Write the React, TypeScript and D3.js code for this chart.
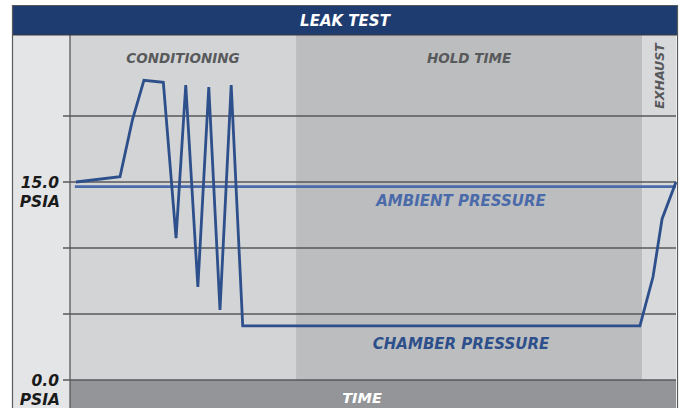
import * as d3 from 'd3';
import React, { useEffect, useRef } from 'react';

// time is in percent of the full cycle, pressure in psia
const phaseNames = ['CONDITIONING', 'HOLD TIME', 'EXHAUST'];
const phaseStarts = [0, 37.3, 94.4];
const phaseEnds = [37.3, 94.4, 100];
const phaseColors = ['#d3d4d6', '#bcbdbf', '#d8d9db'];

const chamberTime = [1, 8.25, 10.3, 12.2, 15.4, 17.5, 19.1, 21.1, 22.9, 24.75, 26.6, 28.5, 94.05, 96.2, 97.7, 100];
const chamberPsia = [15.0, 15.4, 19.7, 22.7, 22.55, 10.75, 22.35, 7.05, 22.2, 5.3, 22.35, 4.1, 4.1, 7.8, 12.2, 15.0];

const ambientTime = [0.8, 100];
const ambientPsia = [14.65, 14.65];

const gridValues = [0, 5, 10, 15, 20];
const tickLabels = [
	{ value: 15, text: '15.0' },
	{ value: 0, text: '0.0' },
];

export default function App(): React.JSX.Element {
	const chartRef = useRef<SVGSVGElement | null>(null);

	useEffect(() => {
		if (chartRef.current === null) return;
		d3.select(chartRef.current).selectAll('*').remove();

		const width = 680;
		const height = 408;
		const frame = { left: 12.5, right: 677.5, top: 5.5 };
		const headerBottom = 35;
		const plot = { left: 70, right: 676, top: headerBottom, bottom: 380 };
		const font = '"DejaVu Sans", Verdana, sans-serif';

		const svg = d3.select(chartRef.current)
			.attr('width', width)
			.attr('height', height)
			.style('position', 'absolute')
			.style('left', '0px')
			.style('top', '0px')
			.style('background', '#ffffff');

		const xScale = d3.scaleLinear().domain([0, 100]).range([plot.left, plot.right]);
		const yScale = d3.scaleLinear().domain([0, 15]).range([plot.bottom, 182]);

		const boldText = (sel: d3.Selection<SVGTextElement, any, any, any>, size: number, fill: string) =>
			sel.attr('font-family', font)
				.attr('font-weight', 'bold')
				.attr('font-style', 'italic')
				.attr('font-size', size)
				.attr('fill', fill);

		// left strip
		svg.append('rect')
			.attr('x', frame.left).attr('y', headerBottom)
			.attr('width', plot.left - frame.left).attr('height', height - headerBottom)
			.attr('fill', '#e4e5e7');

		// phase bands
		svg.selectAll('rect.phase')
			.data(phaseNames)
			.enter()
			.append('rect')
			.attr('class', 'phase')
			.attr('x', (_, i) => xScale(phaseStarts[i]))
			.attr('y', plot.top)
			.attr('width', (_, i) => xScale(phaseEnds[i]) - xScale(phaseStarts[i]))
			.attr('height', plot.bottom - plot.top)
			.attr('fill', (_, i) => phaseColors[i]);

		// time bar
		svg.append('rect')
			.attr('x', plot.left).attr('y', plot.bottom)
			.attr('width', plot.right - plot.left).attr('height', height - plot.bottom)
			.attr('fill', '#939598');

		svg.append('text')
			.attr('x', 362)
			.attr('y', 403)
			.attr('text-anchor', 'middle')
			.call(boldText, 14.5, '#ffffff')
			.text('TIME');

		// gridlines
		svg.selectAll('line.grid')
			.data(gridValues)
			.enter()
			.append('line')
			.attr('class', 'grid')
			.attr('x1', plot.left - 7)
			.attr('x2', plot.right)
			.attr('y1', (d) => yScale(d))
			.attr('y2', (d) => yScale(d))
			.attr('stroke', '#58595b')
			.attr('stroke-width', 1.3);

		// plot left edge
		svg.append('line')
			.attr('x1', plot.left).attr('x2', plot.left)
			.attr('y1', plot.top).attr('y2', height)
			.attr('stroke', '#58595b')
			.attr('stroke-width', 1.3);

		// phase titles
		svg.selectAll('text.phase-title')
			.data(phaseNames.slice(0, 2))
			.enter()
			.append('text')
			.attr('class', 'phase-title')
			.attr('x', (_, i) => (xScale(phaseStarts[i]) + xScale(phaseEnds[i])) / 2)
			.attr('y', 63)
			.attr('text-anchor', 'middle')
			.call(boldText, 13.5, '#58595b')
			.text((d) => d);

		svg.append('text')
			.attr('transform', `translate(${(xScale(phaseStarts[2]) + xScale(phaseEnds[2])) / 2 + 5}, 76) rotate(-90)`)
			.attr('text-anchor', 'middle')
			.call(boldText, 12.5, '#58595b')
			.text(phaseNames[2]);

		// y labels
		tickLabels.forEach((tick) => {
			const y = yScale(tick.value);
			svg.append('text')
				.attr('x', 59).attr('y', y + 6)
				.attr('text-anchor', 'end')
				.call(boldText, 15.5, '#1a1a1a')
				.text(tick.text);
			svg.append('text')
				.attr('x', 60).attr('y', y + 25)
				.attr('text-anchor', 'end')
				.call(boldText, 15.5, '#1a1a1a')
				.text('PSIA');
		});

		// ambient pressure
		svg.append('path')
			.attr('d', d3.line<number>()
				.x((d) => xScale(d))
				.y((_, i) => yScale(ambientPsia[i]))(ambientTime))
			.attr('fill', 'none')
			.attr('stroke', '#4a6aa9')
			.attr('stroke-width', 2.6);

		// chamber pressure
		svg.append('path')
			.attr('d', d3.line<number>()
				.x((d) => xScale(d))
				.y((_, i) => yScale(chamberPsia[i]))(chamberTime))
			.attr('fill', 'none')
			.attr('stroke', '#2d4f8b')
			.attr('stroke-width', 2.8)
			.attr('stroke-linejoin', 'miter');

		svg.append('text')
			.attr('x', 461).attr('y', 206)
			.attr('text-anchor', 'middle')
			.call(boldText, 15, '#4a6aa9')
			.text('AMBIENT PRESSURE');

		svg.append('text')
			.attr('x', 461).attr('y', 349)
			.attr('text-anchor', 'middle')
			.call(boldText, 15, '#2d4f8b')
			.text('CHAMBER PRESSURE');

		// header
		svg.append('rect')
			.attr('x', frame.left).attr('y', frame.top)
			.attr('width', frame.right - frame.left).attr('height', headerBottom - frame.top)
			.attr('fill', '#1f3c70');
		svg.append('line')
			.attr('x1', frame.left).attr('x2', frame.right)
			.attr('y1', headerBottom).attr('y2', headerBottom)
			.attr('stroke', '#3a3a3a')
			.attr('stroke-width', 1.2);
		svg.append('text')
			.attr('x', 345).attr('y', 26)
			.attr('text-anchor', 'middle')
			.call(boldText, 15, '#ffffff')
			.text('LEAK TEST');

		// outer frame
		svg.append('path')
			.attr('d', `M${frame.left},${height} V${frame.top} H${frame.right} V${height}`)
			.attr('fill', 'none')
			.attr('stroke', '#58595b')
			.attr('stroke-width', 1.2);
	}, []);

	return (
		<svg ref={chartRef} />
	);
}
